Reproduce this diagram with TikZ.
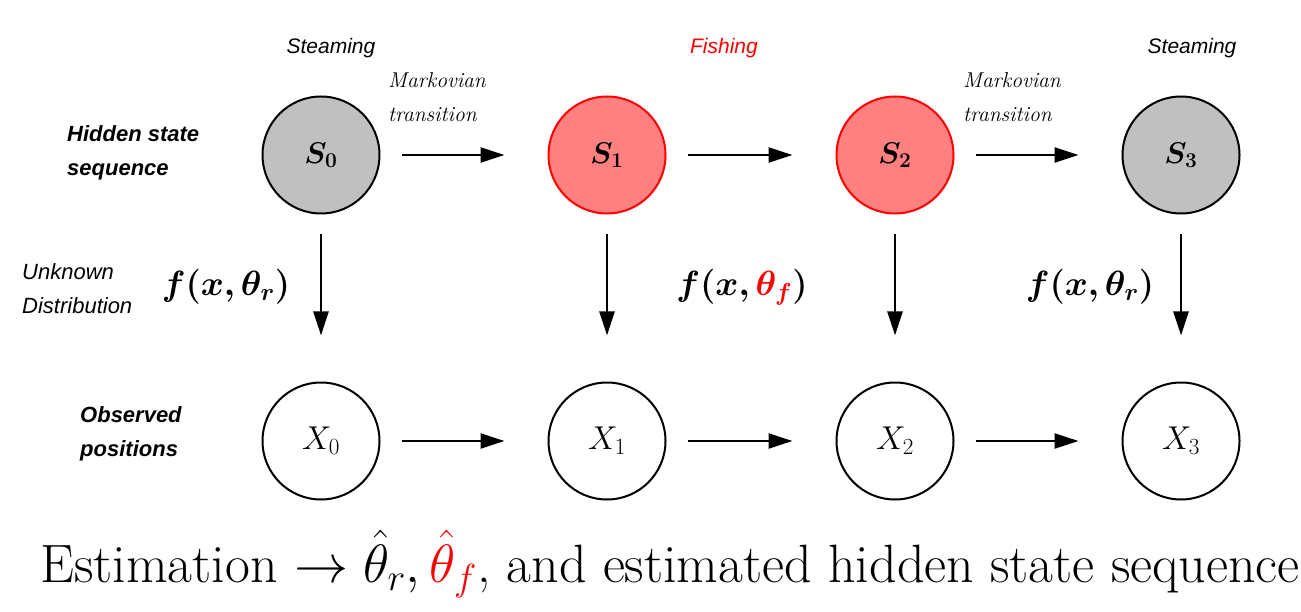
\RequirePackage{fix-cm}
\documentclass[tikz,border=0pt]{standalone}
\usepackage{amsmath,bm}
\usepackage{fontspec}
\setsansfont{Liberation Sans}
\usetikzlibrary{arrows.meta}
\definecolor{stategray}{HTML}{C0C0C0}
\definecolor{fishred}{HTML}{FF8080}
\tikzset{
  state/.style={circle,draw=black,line width=2pt,minimum size=117pt,inner sep=0pt},
  steam/.style={state,fill=stategray,font=\fontsize{30}{34}\selectfont},
  fish/.style={state,fill=fishred,draw=red,font=\fontsize{30}{34}\selectfont},
  obs/.style={state,fill=white,font=\fontsize{33}{38}\selectfont},
  arr/.style={line width=2.6pt,-{Triangle[length=24pt,width=15pt]}},
  harr/.style={arr,shorten <=21pt,shorten >=43pt},
  varr/.style={arr,shorten <=20pt,shorten >=46pt},
  sidelab/.style={anchor=west,align=left,font=\sffamily\bfseries\itshape\fontsize{22}{34}\selectfont,inner sep=0pt},
  toplab/.style={font=\sffamily\itshape\fontsize{21}{24}\selectfont,inner sep=0pt},
  marklab/.style={anchor=west,align=left,font=\itshape\fontsize{21.5}{34}\selectfont,inner sep=0pt},
  flab/.style={font=\fontsize{35}{40}\selectfont,inner sep=0pt}
}
\begin{document}
\begin{tikzpicture}[x=1pt,y=-1pt]
\useasboundingbox (0,0) rectangle (1301,612);
% hidden states
\node[steam] (s0) at (321,155) {$\bm{S_0}$};
\node[fish]  (s1) at (607,155) {$\bm{S_1}$};
\node[fish]  (s2) at (895,155) {$\bm{S_2}$};
\node[steam] (s3) at (1181,155) {$\bm{S_3}$};
% observations
\node[obs] (x0) at (321,441) {$X_0$};
\node[obs] (x1) at (607,441) {$X_1$};
\node[obs] (x2) at (895,441) {$X_2$};
\node[obs] (x3) at (1181,441) {$X_3$};
% horizontal arrows
\draw[harr] (s0) -- (s1);
\draw[harr] (s1) -- (s2);
\draw[harr] (s2) -- (s3);
\draw[harr] (x0) -- (x1);
\draw[harr] (x1) -- (x2);
\draw[harr] (x2) -- (x3);
% vertical arrows
\draw[varr] (s0) -- (x0);
\draw[varr] (s1) -- (x1);
\draw[varr] (s2) -- (x2);
\draw[varr] (s3) -- (x3);
% labels
\node[toplab] (l0) at (331,48) {Steaming};
\node[toplab,text=red] (l1) at (724,48) {Fishing};
\node[toplab] (l3) at (1192,48) {Steaming};
\node[marklab] (m1) at (388,97) {Markovian\\transition};
\node[marklab] (m2) at (963,97) {Markovian\\transition};
\node[sidelab] (hid) at (67,153) {Hidden state\\sequence};
\node[sidelab] (obsl) at (80,434) {Observed\\positions};
\node[anchor=west,align=left,font=\sffamily\itshape\fontsize{22}{34}\selectfont,inner sep=0pt] (unk) at (22,289) {Unknown\\Distribution};
\node[flab] (f0) at (226,287) {$\bm{f(x,\theta_r)}$};
\node[flab] (f1) at (742,287) {$\bm{f(x,\textcolor{red}{\theta_f})}$};
\node[flab] (f3) at (1090,287) {$\bm{f(x,\theta_r)}$};
\node[anchor=base,inner sep=0pt,font=\fontsize{54}{62}\selectfont] (est) at (670,582)
  {Estimation $\rightarrow \hat{\theta}_r, \textcolor{red}{\hat{\theta}_f}$, and estimated hidden state sequence};
\end{tikzpicture}
\end{document}
